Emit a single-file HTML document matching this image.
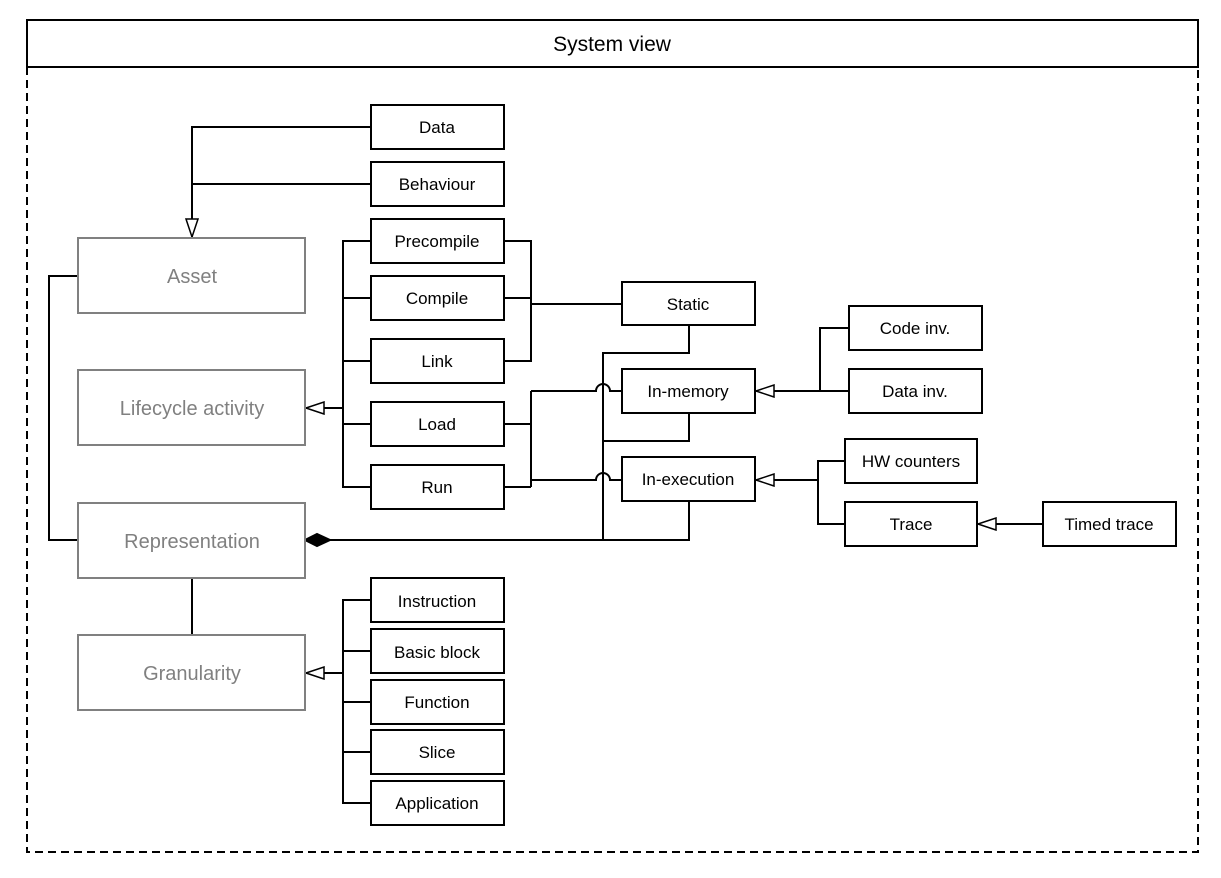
<!DOCTYPE html>
<html><head><meta charset="utf-8"><style>
html,body{margin:0;padding:0;background:#fff;}
svg text{font-family:"Liberation Sans",sans-serif;}
</style></head><body>
<svg width="1221" height="873" viewBox="0 0 1221 873" xmlns="http://www.w3.org/2000/svg">
<defs>
<marker id="tri" viewBox="0 0 20 14" refX="19" refY="7" markerWidth="20" markerHeight="14" markerUnits="userSpaceOnUse" orient="auto">
<path d="M1,1 L19,7 L1,13 Z" fill="#fff" stroke="#000" stroke-width="1.5"/></marker>
</defs>
<g fill="none" stroke="#000" stroke-width="2">
<rect x="27" y="20" width="1171" height="47"/>
<path d="M27,67 V852 H1198 V67" stroke-dasharray="8,5"/>
</g>
<text x="612" y="51" font-size="21" text-anchor="middle">System view</text>

<g fill="none" stroke="#000" stroke-width="2">
<path d="M371,127 H192 V237" marker-end="url(#tri)"/>
<path d="M371,184 H192"/>
<path d="M371,241 H343 V487 H371 M371,298 H343 M371,361 H343 M371,424 H343"/>
<path d="M343,408 H306" marker-end="url(#tri)"/>
<path d="M504,241 H531 V361 H504 M504,298 H531 M531,304 H622"/>
<path d="M504,424 H531 M504,487 H531 M531,391 V487"/>
<path d="M531,391 H596 A7,7 0 0 1 610,391 H622"/>
<path d="M531,480 H596 A7,7 0 0 1 610,480 H622"/>
<path d="M689,325 V353 H603 V540 M689,413 V441 H603 M689,501 V540 H330"/>
<path d="M305,540 L317,534 L330,540 L317,546 Z" fill="#000"/>
<path d="M78,276 H49 V540 H78"/>
<path d="M192,578 V635"/>
<path d="M849,328 H820 V391"/>
<path d="M849,391 H756" marker-end="url(#tri)"/>
<path d="M845,461 H818 V524 H845"/>
<path d="M818,480 H756" marker-end="url(#tri)"/>
<path d="M1043,524 H978" marker-end="url(#tri)"/>
<path d="M371,600 H343 V803 H371 M371,651 H343 M371,702 H343 M371,752 H343"/>
<path d="M343,673 H306" marker-end="url(#tri)"/>
</g>

<g fill="#fff" stroke="#000" stroke-width="2">
<rect x="371" y="105" width="133" height="44"/>
<rect x="371" y="162" width="133" height="44"/>
<rect x="371" y="219" width="133" height="44"/>
<rect x="371" y="276" width="133" height="44"/>
<rect x="371" y="339" width="133" height="44"/>
<rect x="371" y="402" width="133" height="44"/>
<rect x="371" y="465" width="133" height="44"/>
<rect x="622" y="282" width="133" height="43"/>
<rect x="622" y="369" width="133" height="44"/>
<rect x="622" y="457" width="133" height="44"/>
<rect x="849" y="306" width="133" height="44"/>
<rect x="849" y="369" width="133" height="44"/>
<rect x="845" y="439" width="132" height="44"/>
<rect x="845" y="502" width="132" height="44"/>
<rect x="1043" y="502" width="133" height="44"/>
<rect x="371" y="578" width="133" height="44"/>
<rect x="371" y="629" width="133" height="44"/>
<rect x="371" y="680" width="133" height="44"/>
<rect x="371" y="730" width="133" height="44"/>
<rect x="371" y="781" width="133" height="44"/>
</g>
<g fill="#fff" stroke="#808080" stroke-width="2">
<rect x="78" y="238" width="227" height="75"/>
<rect x="78" y="370" width="227" height="75"/>
<rect x="78" y="503" width="227" height="75"/>
<rect x="78" y="635" width="227" height="75"/>
</g>
<g font-size="17" text-anchor="middle" fill="#000">
<text x="437" y="133">Data</text>
<text x="437" y="190">Behaviour</text>
<text x="437" y="247">Precompile</text>
<text x="437" y="304">Compile</text>
<text x="437" y="367">Link</text>
<text x="437" y="430">Load</text>
<text x="437" y="493">Run</text>
<text x="688" y="310">Static</text>
<text x="688" y="397">In-memory</text>
<text x="688" y="485">In-execution</text>
<text x="915" y="334">Code inv.</text>
<text x="915" y="397">Data inv.</text>
<text x="911" y="467">HW counters</text>
<text x="911" y="530">Trace</text>
<text x="1109" y="530">Timed trace</text>
<text x="437" y="607">Instruction</text>
<text x="437" y="658">Basic block</text>
<text x="437" y="708">Function</text>
<text x="437" y="758">Slice</text>
<text x="437" y="809">Application</text>
</g>
<g font-size="20" text-anchor="middle" fill="#808080">
<text x="192" y="283">Asset</text>
<text x="192" y="415">Lifecycle activity</text>
<text x="192" y="548">Representation</text>
<text x="192" y="680">Granularity</text>
</g>
</svg>
</body></html>
